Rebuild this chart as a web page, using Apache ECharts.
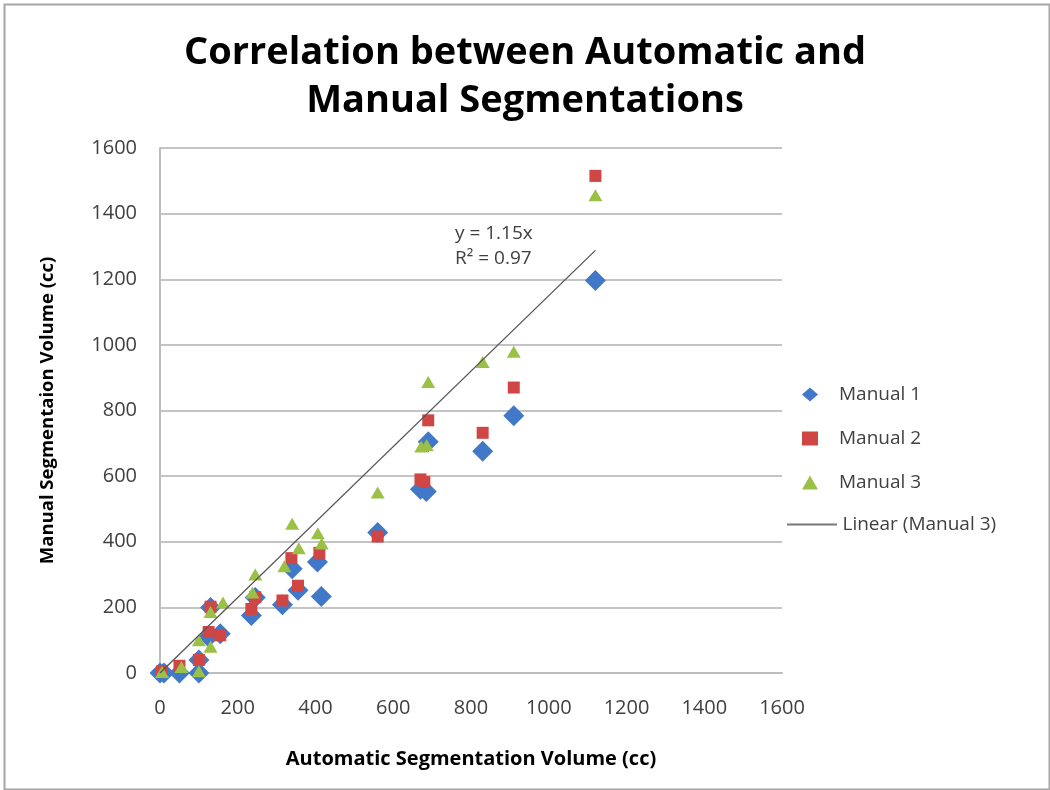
<!DOCTYPE html>
<html>
<head>
<meta charset="utf-8">
<title>Correlation between Automatic and Manual Segmentations</title>
<script src="https://cdn.jsdelivr.net/npm/echarts@6/dist/echarts.min.js"></script>
<style>
  html, body { margin: 0; padding: 0; background: #fff; }
</style>
</head>
<body>
<div id="main" style="width:1050px;height:790px;"></div>
<script type="text/javascript">
var myChart = echarts.init(document.getElementById('main'));

// points: [automatic volume, manual volume]
var manual1 = [
    [0, 0], [10, 0], [50, 0], [100, 0], [100, 40], [125, 110], [130, 200], [155, 120],
    [235, 175], [245, 230], [315, 208], [340, 318], [355, 252], [405, 338], [415, 233],
    [560, 428], [670, 560], [685, 553], [690, 705], [830, 676], [910, 784], [1120, 1196]
];
var manual2 = [
    [5, 5], [50, 22], [100, 40], [125, 125], [130, 202], [155, 115], [235, 195], [245, 231],
    [315, 221], [338, 350], [355, 266], [410, 366], [560, 416], [670, 590], [680, 582],
    [690, 770], [830, 732], [910, 870], [1120, 1515]
];
var manual3 = [
    [5, 3], [55, 18], [100, 5], [100, 100], [130, 80], [130, 186], [162, 215], [238, 245],
    [245, 300], [320, 325], [340, 455], [357, 380], [406, 426], [416, 395], [560, 550],
    [672, 690], [686, 695], [690, 887], [830, 948], [910, 979], [1120, 1456]
];
var trendSlope = 1.15;
var trendRange = [0, 1120];
var xTicks = [0, 200, 400, 600, 800, 1000, 1200, 1400, 1600];
var yTicks = [0, 200, 400, 600, 800, 1000, 1200, 1400, 1600];

var trendData = trendRange.map(function (x) { return [x, trendSlope * x]; });

var font = '"Open Sans", sans-serif';
var labelColor = '#404040';

option = {
    backgroundColor: '#fff',
    animation: false,
    title: {
        text: 'Correlation between Automatic and\nManual Segmentations',
        left: 'center',
        top: 24,
        textStyle: {
            fontFamily: font,
            fontSize: 38,
            fontWeight: 'bold',
            color: '#000',
            lineHeight: 48
        }
    },
    grid: {
        left: 160,
        right: 268,
        top: 148,
        bottom: 117
    },
    legend: [{
        orient: 'vertical',
        left: 797,
        top: 380,
        itemWidth: 16,
        itemHeight: 14,
        itemGap: 25,
        textStyle: { fontFamily: font, fontSize: 19, color: labelColor, padding: [0, 0, 0, 16] },
        data: [
            { name: 'Manual 1', icon: 'diamond' },
            { name: 'Manual 2', icon: 'rect' },
            { name: 'Manual 3', icon: 'triangle' }
        ]
    }, {
        orient: 'vertical',
        left: 782,
        top: 510,
        itemWidth: 51,
        itemHeight: 2,
        textStyle: { fontFamily: font, fontSize: 19, color: labelColor, padding: [0, 0, 0, 0] },
        data: [{ name: 'Linear (Manual 3)', icon: 'path://M0,0H50V2H0Z' }]
    }],
    xAxis: {
        type: 'value',
        min: xTicks[0],
        max: xTicks[xTicks.length - 1],
        interval: 200,
        name: 'Automatic Segmentation Volume (cc)',
        nameLocation: 'middle',
        nameGap: 76,
        nameTextStyle: { fontFamily: font, fontSize: 20, fontWeight: 'bold', color: '#000' },
        axisLine: { show: true, lineStyle: { color: '#bdbdbd', width: 2 } },
        axisTick: { show: false },
        splitLine: { show: false },
        axisLabel: {
            fontFamily: font, fontSize: 20, color: labelColor, margin: 25,
            formatter: function (v) { return String(v); }
        }
    },
    yAxis: {
        type: 'value',
        min: yTicks[0],
        max: yTicks[yTicks.length - 1],
        interval: 200,
        name: 'Manual Segmentaion Volume (cc)',
        nameLocation: 'middle',
        nameGap: 103,
        nameTextStyle: { fontFamily: font, fontSize: 18.5, fontWeight: 'bold', color: '#000' },
        axisLine: { show: true, lineStyle: { color: '#bdbdbd', width: 2 } },
        axisTick: { show: false },
        splitLine: { show: true, lineStyle: { color: '#c4c4c4', width: 2 } },
        axisLabel: {
            fontFamily: font, fontSize: 20, color: labelColor, margin: 23,
            formatter: function (v) { return String(v); }
        }
    },
    series: [{
        name: 'Manual 1',
        type: 'scatter',
        symbol: 'diamond',
        symbolSize: [21, 21],
        itemStyle: { color: '#4178c8', opacity: 1 },
        data: manual1
    }, {
        name: 'Manual 2',
        type: 'scatter',
        symbol: 'rect',
        symbolSize: [12, 12],
        itemStyle: { color: '#cf4645', opacity: 1 },
        data: manual2
    }, {
        name: 'Manual 3',
        type: 'scatter',
        symbol: 'triangle',
        symbolSize: [14, 12],
        itemStyle: { color: '#9bc046', opacity: 1 },
        data: manual3
    }, {
        name: 'Linear (Manual 3)',
        type: 'line',
        symbol: 'none',
        lineStyle: { color: '#555', width: 1.3 },
        itemStyle: { color: '#777' },
        data: trendData,
        z: 3
    }],
    graphic: [{
        type: 'rect',
        left: 2,
        top: 2,
        shape: { width: 1045, height: 785 },
        style: { fill: 'none', stroke: '#a6a6a6', lineWidth: 2 },
        silent: true
    }, {
        type: 'text',
        left: 455,
        top: 221,
        style: {
            text: 'y = 1.15x\nR² = 0.97',
            fontFamily: font,
            fontSize: 19,
            lineHeight: 25,
            fill: labelColor
        }
    }]
};
myChart.setOption(option);
</script>
</body>
</html>
